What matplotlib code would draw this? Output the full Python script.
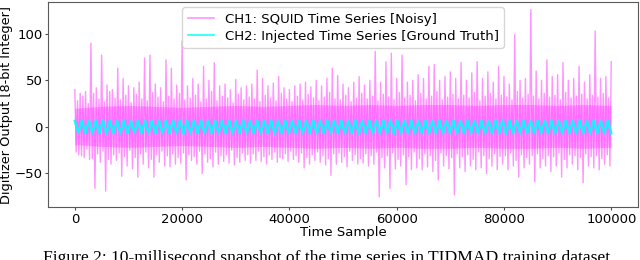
import numpy as np
import matplotlib
matplotlib.use("Agg")
import matplotlib.pyplot as plt

# --- values (per 1000 time samples) ---
# outer upper / lower extent of the noisy SQUID trace in each slot
noise_hi = [40, 36, 38, 90, 42, 77, 45, 40, 63, 52,
            44, 42, 48, 74, 77, 46, 42, 72, 63, 45,
            92, 44, 52, 46, 65, 50, 69, 44, 46, 40,
            51, 42, 44, 46, 61, 52, 44, 47, 54, 42,
            40, 44, 46, 48, 43, 50, 44, 52, 63, 55,
            46, 42, 48, 54, 45, 50, 81, 48, 70, 79,
            52, 77, 48, 50, 56, 52, 65, 67, 50, 54,
            59, 52, 69, 50, 58, 70, 52, 59, 48, 65,
            54, 46, 99, 50, 52, 126, 60, 50, 72, 54,
            56, 69, 50, 52, 65, 48, 56, 103, 52, 54,
            70]
noise_lo = [-30, -33, -35, -66, -38, -69, -40, -36, -53, -42,
            -45, -54, -40, -44, -54, -38, -42, -43, -40, -39,
            -57, -36, -40, -50, -38, -43, -40, -37, -39, -41,
            -38, -36, -39, -36, -37, -40, -35, -38, -34, -37,
            -35, -38, -44, -40, -36, -38, -41, -52, -40, -38,
            -43, -36, -40, -39, -42, -40, -75, -44, -66, -45,
            -42, -62, -46, -44, -46, -43, -48, -57, -42, -45,
            -73, -44, -48, -42, -46, -44, -50, -42, -46, -40,
            -46, -42, -54, -44, -40, -59, -44, -42, -48, -42,
            -54, -44, -40, -46, -60, -42, -44, -46, -40, -42,
            -39]
# inner swings between the outer ones (same slots)
inner_hi = [28, 33, 25, 36, 30, 27, 38, 31, 29, 34,
            26, 35, 30, 28, 37, 32, 27, 33, 30, 36,
            29, 31, 34, 27, 30, 38, 28, 33, 31, 26,
            35, 29, 32, 30, 27, 34, 31, 28, 36, 30,
            27, 33, 29, 35, 31, 28, 32, 37, 30, 29,
            34, 27, 31, 36, 30, 33, 28, 35, 32, 29,
            37, 31, 34, 28, 36, 30, 33, 38, 29, 32,
            35, 30, 34, 31, 37, 28, 33, 36, 30, 34,
            32, 29, 38, 31, 35, 33, 30, 36, 32, 34,
            29, 37, 31, 33, 35, 30, 34, 32, 36, 31,
            30]
inner_lo = [-27, -31, -24, -34, -29, -26, -35, -30, -28, -32,
            -25, -33, -29, -27, -35, -30, -26, -31, -29, -33,
            -28, -30, -32, -26, -29, -34, -27, -31, -30, -25,
            -33, -28, -30, -29, -26, -32, -30, -27, -33, -29,
            -26, -31, -28, -33, -30, -27, -31, -34, -29, -28,
            -32, -26, -30, -34, -29, -31, -27, -33, -31, -28,
            -35, -30, -32, -27, -34, -29, -31, -36, -28, -31,
            -33, -29, -32, -30, -35, -27, -31, -34, -29, -32,
            -31, -28, -36, -30, -33, -31, -29, -34, -31, -32,
            -28, -35, -30, -31, -33, -29, -32, -31, -34, -30,
            -29]

# dense core of the noisy trace (per 5000 samples)
core_hi = [20, 22, 23, 22, 21, 22, 23, 22, 23, 24, 23,
           24, 23, 24, 24, 23, 24, 24, 23, 24, 23]
core_lo = [-19, -21, -22, -21, -20, -21, -22, -21, -22, -23, -22,
           -23, -22, -23, -23, -22, -23, -23, -22, -23, -22]

# injected ground-truth amplitude for each visible cycle
gt_amp = [6.5, 7, 7, 7, 7.5, 7, 7, 7, 6.5, 7,
          7, 7, 7, 7, 7, 7.5, 7, 7, 7, 7,
          7, 7, 7, 7, 7, 7, 7, 7, 7.5, 7,
          7, 7, 7, 7, 7, 7, 7, 7, 7, 7,
          7.5, 7, 7, 7, 7, 7.5, 7, 7, 7, 7,
          7, 7, 7, 7, 7, 7, 7, 7, 7, 7,
          7, 7.5, 7, 7, 7, 7, 7, 7, 7, 7,
          7, 7, 7, 7, 7, 7, 7]

n_samples = 100000
caption = "Figure 2: 10-millisecond snapshot of the time series in TIDMAD training dataset"

# --- build plotted series ---
k = np.arange(len(noise_hi)) * 1000
noise_x = np.column_stack([k, k + 250, k + 500, k + 750]).ravel()[:-3]
noise_y = np.column_stack([noise_hi, inner_lo, inner_hi, noise_lo]).ravel()[:-3]
core_x = np.arange(len(core_hi)) * 5000

gt_y = np.column_stack([gt_amp, -np.array(gt_amp)]).ravel()
gt_x = np.linspace(0, n_samples, len(gt_y))

plt.rcParams["font.family"] = "DejaVu Sans"
fig = plt.figure(figsize=(6.4, 2.6), dpi=100)
ax = fig.add_axes([0.075, 0.204, 0.922, 0.788])

ax.fill_between(core_x, core_lo, core_hi, color="#ff00ff", alpha=0.25,
                linewidth=0)
ax.plot(noise_x, noise_y, color="#ff00ff", alpha=0.42, linewidth=1.0,
        label="CH1: SQUID Time Series [Noisy]")
ax.plot(gt_x, gt_y, color="#00ffff", alpha=0.9, linewidth=1.8,
        label="CH2: Injected Time Series [Ground Truth]")

ax.set_xlim(-5000, 105000)
ax.set_ylim(-86, 134)
ax.set_xticks([0, 20000, 40000, 60000, 80000, 100000])
ax.set_yticks([-50, 0, 50, 100])
ax.tick_params(labelsize=9.5, length=2.5, pad=1.5, color="0.3")
for s in ax.spines.values():
    s.set_color("0.35")
ax.set_xlabel("Time Sample", fontsize=9.5, labelpad=0)
ax.set_ylabel("Digitizer Output [8-bit Integer]", fontsize=9.3, labelpad=1)

leg = ax.legend(loc="upper center", fontsize=9.5, borderaxespad=0.4,
                handlelength=2.0, labelspacing=0.3)
for h in leg.get_lines():
    h.set_linewidth(1.2)

fig.text(0.51, -0.008, caption, ha="center", va="baseline",
         family=["Liberation Serif", "DejaVu Serif"], fontsize=12.6)

fig.savefig("out.png", dpi=100)
